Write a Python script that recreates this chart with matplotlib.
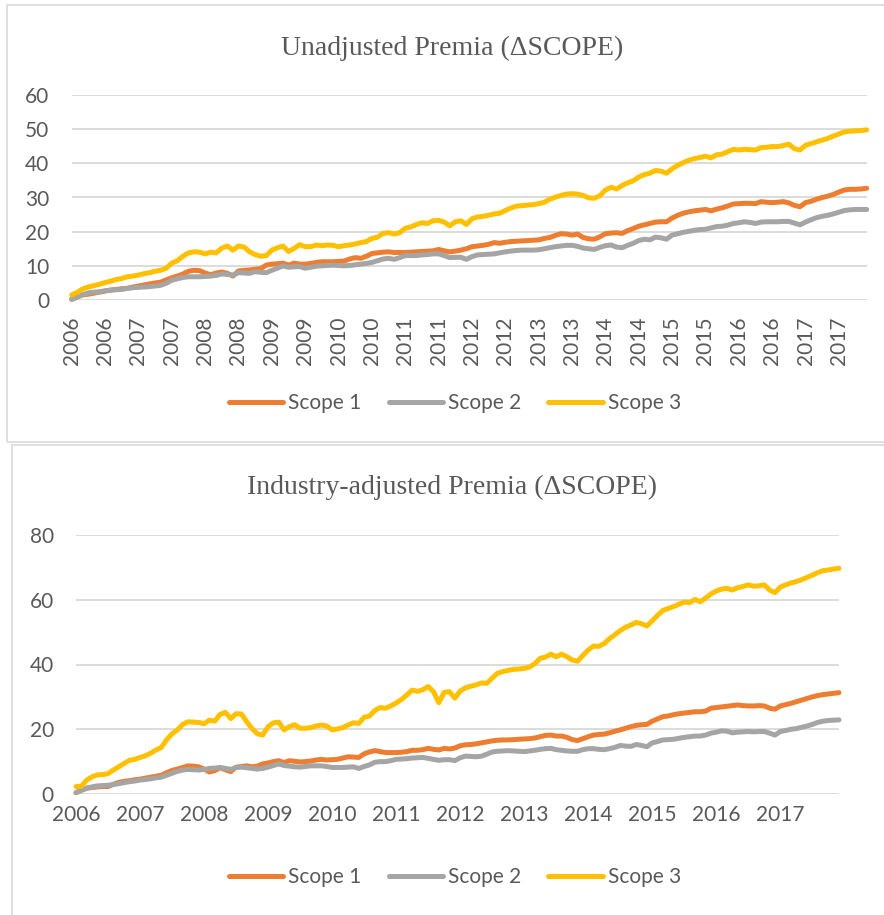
import numpy as np
import pandas as pd
import matplotlib
matplotlib.use("Agg")
import matplotlib.pyplot as plt
from matplotlib.patches import Rectangle

# monthly observations, Jan 2006 .. Dec 2017
months = pd.date_range("2006-01-01", periods=144, freq="MS")

# Unadjusted premia
top_scope1 = [
    0.2, 0.9, 1.5, 1.7, 2.0, 2.3, 2.6, 2.9, 3.1, 3.3, 3.4, 3.8,
    4.1, 4.4, 4.7, 5.0, 5.2, 5.9, 6.5, 7.0, 7.6, 8.4, 8.7, 8.6,
    7.9, 7.4, 7.9, 8.2, 7.8, 7.0, 8.5, 8.7, 8.8, 9.0, 9.2, 10.2,
    10.5, 10.6, 10.8, 10.2, 10.8, 10.5, 10.5, 10.7, 11.0, 11.2, 11.2, 11.2,
    11.3, 11.4, 12.0, 12.4, 12.2, 12.8, 13.6, 13.8, 14.0, 14.1, 13.9, 13.9,
    13.9, 14.0, 14.1, 14.2, 14.3, 14.4, 14.8, 14.4, 14.1, 14.3, 14.6, 15.0,
    15.6, 15.8, 16.0, 16.3, 16.8, 16.6, 16.9, 17.1, 17.2, 17.3, 17.4, 17.5,
    17.6, 18.0, 18.3, 18.9, 19.4, 19.3, 19.0, 19.3, 18.3, 17.9, 17.8, 18.5,
    19.4, 19.6, 19.7, 19.5, 20.3, 20.9, 21.6, 22.0, 22.4, 22.8, 22.9, 22.9,
    24.0, 24.8, 25.4, 25.8, 26.1, 26.3, 26.5, 26.1, 26.6, 27.0, 27.5, 28.1,
    28.2, 28.3, 28.3, 28.2, 28.8, 28.6, 28.5, 28.6, 28.8, 28.4, 27.7, 27.3,
    28.5, 28.9, 29.5, 30.0, 30.4, 30.9, 31.6, 32.2, 32.4, 32.4, 32.5, 32.7,
]
top_scope2 = [
    0.2, 0.8, 1.6, 2.1, 2.3, 2.4, 2.7, 2.9, 3.0, 3.1, 3.4, 3.6,
    3.7, 3.8, 3.9, 4.1, 4.3, 4.9, 5.8, 6.2, 6.6, 6.8, 6.8, 6.8,
    6.9, 7.0, 7.2, 7.6, 7.5, 7.3, 8.0, 7.9, 7.8, 8.3, 8.1, 8.0,
    8.7, 9.3, 10.0, 9.6, 9.7, 9.8, 9.3, 9.6, 9.9, 10.0, 10.1, 10.2,
    10.1, 10.0, 10.1, 10.3, 10.5, 10.7, 11.0, 11.5, 12.0, 12.2, 11.9, 12.4,
    13.0, 13.0, 13.0, 13.2, 13.3, 13.5, 13.5, 13.0, 12.4, 12.5, 12.5, 11.9,
    12.7, 13.2, 13.3, 13.4, 13.5, 13.8, 14.1, 14.3, 14.5, 14.6, 14.6, 14.6,
    14.7, 15.0, 15.3, 15.6, 15.8, 16.0, 16.0, 15.7, 15.2, 15.0, 14.8, 15.4,
    15.9, 16.1, 15.5, 15.3, 16.0, 16.6, 17.4, 17.8, 17.6, 18.4, 18.2, 17.8,
    19.0, 19.4, 19.8, 20.1, 20.4, 20.6, 20.7, 21.1, 21.5, 21.6, 21.9, 22.4,
    22.6, 22.9, 22.7, 22.4, 22.8, 22.9, 22.9, 22.9, 23.0, 23.0, 22.5, 22.0,
    22.8, 23.5, 24.1, 24.5, 24.8, 25.2, 25.7, 26.2, 26.4, 26.5, 26.5, 26.5,
]
top_scope3 = [
    1.5, 2.2, 3.3, 3.8, 4.2, 4.6, 5.1, 5.5, 6.0, 6.3, 6.8, 7.0,
    7.3, 7.7, 8.0, 8.4, 8.7, 9.3, 10.8, 11.5, 12.8, 13.8, 14.1, 14.0,
    13.5, 14.0, 13.8, 15.2, 15.8, 14.6, 15.8, 15.5, 14.1, 13.3, 12.8, 13.0,
    14.6, 15.3, 15.8, 14.2, 15.1, 16.2, 15.6, 15.6, 16.1, 15.9, 16.1, 16.0,
    15.6, 15.9, 16.1, 16.4, 16.8, 17.1, 18.0, 18.4, 19.5, 19.7, 19.3, 19.7,
    21.0, 21.4, 22.1, 22.6, 22.4, 23.2, 23.3, 22.8, 21.7, 22.9, 23.2, 22.1,
    23.8, 24.3, 24.5, 24.8, 25.2, 25.4, 26.2, 26.9, 27.5, 27.6, 27.8, 27.9,
    28.2, 28.6, 29.5, 30.1, 30.6, 31.0, 31.1, 31.0, 30.6, 29.9, 29.8, 30.5,
    32.2, 33.0, 32.5, 33.5, 34.3, 34.9, 36.0, 36.7, 37.1, 37.9, 37.7, 37.1,
    38.4, 39.4, 40.2, 40.9, 41.4, 41.7, 42.1, 41.6, 42.5, 42.7, 43.4, 44.1,
    43.9, 44.1, 44.0, 43.9, 44.6, 44.7, 44.9, 44.9, 45.2, 45.6, 44.3, 43.9,
    45.3, 45.8, 46.3, 46.8, 47.3, 48.0, 48.6, 49.2, 49.4, 49.5, 49.6, 49.8,
]

# Industry-adjusted premia
bot_scope1 = [
    0.4, 1.2, 1.8, 2.0, 2.2, 2.3, 2.3, 3.0, 3.6, 3.9, 4.1, 4.4,
    4.6, 4.9, 5.2, 5.5, 5.8, 6.6, 7.3, 7.7, 8.2, 8.7, 8.6, 8.4,
    7.7, 6.8, 7.2, 8.1, 7.5, 6.9, 8.3, 8.5, 8.7, 8.4, 8.6, 9.3,
    9.6, 10.0, 10.3, 9.7, 10.3, 10.1, 9.9, 10.0, 10.2, 10.5, 10.7, 10.5,
    10.6, 10.7, 11.1, 11.5, 11.4, 11.3, 12.4, 13.0, 13.4, 13.1, 12.8, 12.8,
    12.8, 12.9, 13.1, 13.5, 13.5, 13.7, 14.1, 13.8, 13.6, 14.1, 13.9, 14.2,
    14.9, 15.2, 15.3, 15.5, 15.8, 16.1, 16.4, 16.6, 16.7, 16.7, 16.8, 16.9,
    17.0, 17.1, 17.3, 17.7, 18.1, 18.2, 17.9, 17.9, 17.5, 16.8, 16.5, 17.1,
    17.7, 18.2, 18.4, 18.5, 18.9, 19.4, 19.8, 20.3, 20.8, 21.2, 21.4, 21.5,
    22.5, 23.2, 23.9, 24.1, 24.5, 24.8, 25.0, 25.2, 25.4, 25.4, 25.6, 26.5,
    26.7, 26.9, 27.1, 27.3, 27.5, 27.3, 27.2, 27.2, 27.3, 27.2, 26.5, 26.2,
    27.2, 27.6, 28.0, 28.5, 29.0, 29.5, 30.0, 30.4, 30.7, 30.9, 31.1, 31.3,
]
bot_scope2 = [
    0.4, 1.1, 1.8, 2.2, 2.5, 2.6, 2.7, 2.9, 3.2, 3.5, 3.8, 4.0,
    4.3, 4.5, 4.7, 5.0, 5.2, 5.8, 6.4, 7.0, 7.4, 7.6, 7.5, 7.4,
    7.6, 7.9, 8.0, 8.2, 7.9, 7.6, 8.2, 8.3, 8.1, 7.9, 7.7, 7.9,
    8.3, 8.8, 9.3, 8.8, 8.6, 8.4, 8.3, 8.5, 8.7, 8.7, 8.7, 8.5,
    8.2, 8.2, 8.2, 8.3, 8.4, 7.9, 8.5, 9.0, 9.8, 10.0, 10.0, 10.3,
    10.7, 10.8, 10.9, 11.1, 11.2, 11.3, 11.0, 10.7, 10.4, 10.6, 10.6, 10.3,
    11.2, 11.7, 11.6, 11.5, 11.7, 12.3, 13.0, 13.2, 13.3, 13.4, 13.3, 13.2,
    13.1, 13.3, 13.5, 13.8, 14.0, 14.1, 13.7, 13.5, 13.3, 13.2, 13.2, 13.7,
    14.0, 14.0, 13.8, 13.7, 14.0, 14.4, 15.0, 14.8, 14.7, 15.3, 15.0, 14.6,
    15.8, 16.2, 16.7, 16.8, 16.9, 17.2, 17.5, 17.7, 17.9, 17.9, 18.2, 18.8,
    19.1, 19.5, 19.4, 18.9, 19.1, 19.2, 19.3, 19.2, 19.3, 19.3, 18.8, 18.2,
    19.3, 19.6, 20.0, 20.2, 20.6, 21.0, 21.5, 22.1, 22.5, 22.7, 22.8, 22.9,
]
bot_scope3 = [
    2.3, 2.4, 4.3, 5.3, 5.9, 6.0, 6.3, 7.4, 8.4, 9.4, 10.4, 10.7,
    11.3, 11.8, 12.6, 13.6, 14.4, 16.8, 18.6, 19.8, 21.5, 22.3, 22.2, 22.1,
    21.7, 22.8, 22.5, 24.6, 25.2, 23.3, 24.8, 24.7, 22.3, 20.2, 18.6, 18.2,
    20.8, 22.0, 22.2, 19.8, 20.8, 21.4, 20.3, 20.3, 20.5, 21.0, 21.3, 21.0,
    19.8, 20.1, 20.5, 21.3, 22.0, 21.8, 23.7, 24.1, 25.8, 26.7, 26.5, 27.2,
    28.1, 29.2, 30.6, 32.1, 31.7, 32.2, 33.2, 31.6, 28.2, 31.4, 31.6, 29.6,
    31.8, 32.8, 33.3, 33.7, 34.3, 34.2, 35.8, 37.3, 37.8, 38.2, 38.5, 38.6,
    38.8, 39.2, 40.3, 41.9, 42.3, 43.2, 42.4, 43.2, 42.4, 41.4, 41.0, 42.8,
    44.5, 45.7, 45.6, 46.5, 48.0, 49.2, 50.5, 51.5, 52.2, 53.0, 52.6, 51.9,
    53.5, 55.2, 56.7, 57.3, 57.9, 58.6, 59.3, 59.1, 60.1, 59.4, 60.5, 61.8,
    62.7, 63.3, 63.5, 63.0, 63.7, 64.1, 64.6, 64.2, 64.3, 64.6, 63.0, 62.2,
    63.9, 64.6, 65.2, 65.6, 66.2, 66.9, 67.6, 68.4, 69.0, 69.2, 69.5, 69.7,
]

series_names = ["Scope 1", "Scope 2", "Scope 3"]
colors = ["#ED7D31", "#A5A5A5", "#FFC000"]
text_col = "#595959"
grid_col = "#D9D9D9"
sans = ["Lato", "DejaVu Sans"]
serif = ["Liberation Serif", "DejaVu Serif"]
fs = 15

W, H = 884, 915
fig = plt.figure(figsize=(W / 100, H / 100), dpi=100)

def fx(px):
    return px / W

def fy(py):
    return 1 - py / H

# chart area borders (as in the screenshot)
fig.patches.append(Rectangle((fx(7), fy(442)), fx(900), fy(5) - fy(442),
                             transform=fig.transFigure, fill=False,
                             ec=grid_col, lw=1.2))
fig.patches.append(Rectangle((fx(12), fy(935)), fx(900), fy(445) - fy(935),
                             transform=fig.transFigure, fill=False,
                             ec=grid_col, lw=1.2))

x = np.arange(len(months))
years = months.year


def style_axes(ax, ymax, ystep):
    ax.set_xlim(x[0], x[-1])
    ax.set_ylim(0, ymax)
    ax.set_yticks(np.arange(0, ymax + 1, ystep))
    for s in ax.spines.values():
        s.set_visible(False)
    ax.grid(axis="y", color=grid_col, lw=1.3)
    ax.set_axisbelow(True)
    ax.tick_params(length=0, colors=text_col)
    ax.tick_params(axis="y", pad=16, labelsize=fs)
    for lab in ax.get_yticklabels():
        lab.set_family(sans)


def add_legend(ax, ypx):
    leg = fig.legend(ax.get_lines(), series_names, loc="center",
                     bbox_to_anchor=(fx(455), fy(ypx)), ncol=3, frameon=False,
                     handlelength=2.6, handletextpad=0.25, columnspacing=1.3,
                     prop={"family": sans, "size": fs})
    for t in leg.get_texts():
        t.set_color(text_col)


# top chart: Unadjusted Premia
ax1 = fig.add_axes([fx(71.7), fy(300), fx(795), fy(95) - fy(300)])
for vals, name, c in zip([top_scope1, top_scope2, top_scope3], series_names, colors):
    ax1.plot(x, vals, color=c, lw=3.6, label=name, solid_joinstyle="round",
             solid_capstyle="round", clip_on=False)
style_axes(ax1, 60, 10)
top_ticks = x[::6]
ax1.set_xticks(top_ticks)
ax1.set_xticklabels([str(years[i]) for i in top_ticks], rotation=90,
                    family=sans, fontsize=fs, color=text_col)
ax1.tick_params(axis="x", pad=12)
fig.text(fx(452), fy(48), "Unadjusted Premia (\u0394SCOPE)", ha="center",
         va="center", fontsize=20, color=text_col, family=serif)
add_legend(ax1, 403)

# bottom chart: Industry-adjusted Premia
ax2 = fig.add_axes([fx(76), fy(794), fx(763), fy(535) - fy(794)])
for vals, name, c in zip([bot_scope1, bot_scope2, bot_scope3], series_names, colors):
    ax2.plot(x, vals, color=c, lw=3.6, label=name, solid_joinstyle="round",
             solid_capstyle="round", clip_on=False)
style_axes(ax2, 80, 20)
bot_ticks = x[::12]
ax2.set_xticks(bot_ticks)
ax2.set_xticklabels([str(years[i]) for i in bot_ticks], family=sans,
                    fontsize=fs, color=text_col)
ax2.tick_params(axis="x", pad=8)
fig.text(fx(452), fy(487), "Industry-adjusted Premia (\u0394SCOPE)", ha="center",
         va="center", fontsize=20, color=text_col, family=serif)
add_legend(ax2, 877)

fig.savefig("out.png", dpi=100)
